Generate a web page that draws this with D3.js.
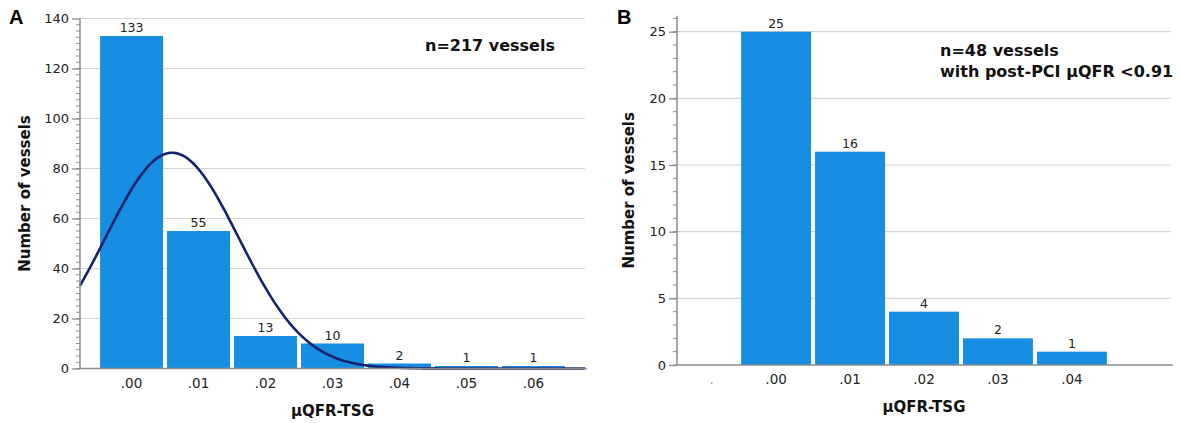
<!DOCTYPE html>
<html>
<head>
<meta charset="utf-8">
<script src="https://cdn.jsdelivr.net/npm/d3@7"></script>
<style>
  body { margin: 0; background: #fff; }
  svg { font-family: "DejaVu Sans", Verdana, sans-serif; }
</style>
</head>
<body>
<svg id="chart" width="1180" height="423"></svg>
<script>
// panel A: all vessels
const binsA = [0.00, 0.01, 0.02, 0.03, 0.04, 0.05, 0.06];
const countsA = [133, 55, 13, 10, 2, 1, 1];
const yTicksA = [0, 20, 40, 60, 80, 100, 120, 140];

// panel B: vessels with post-PCI uQFR < 0.91
const binsB = [0.00, 0.01, 0.02, 0.03, 0.04];
const countsB = [25, 16, 4, 2, 1];
const yTicksB = [0, 5, 10, 15, 20, 25];
const xLabelsB = [".", ".00", ".01", ".02", ".03", ".04"];
const xLabelPosB = [-0.0087, 0.00, 0.01, 0.02, 0.03, 0.04];

const barColor = "#178ee2";
const gridColor = "#d6d6d6";
const axisColor = "#8c8c8c";
const binWidth = 0.01;

const svg = d3.select("#chart");
const fmt = d3.format(".2f");
const tickFmt = function(d) { return fmt(d).replace(/^0/, ""); };

function drawPanel(opt)
{
    const g = svg.append("g");
    const x = d3.scaleLinear().domain(opt.xDomain).range([opt.left, opt.right]);
    const y = d3.scaleLinear().domain([0, opt.yMax]).range([opt.bottom, opt.yMaxPx]);
    const yTop = y(opt.axisTop);

    // gridlines
    g.selectAll(".grid")
        .data(opt.yTicks.filter(function(d) { return d > 0; }))
        .enter().append("line")
        .attr("x1", opt.left).attr("x2", opt.right)
        .attr("y1", function(d) { return y(d); })
        .attr("y2", function(d) { return y(d); })
        .attr("stroke", gridColor).attr("stroke-width", 1.2);

    // bars
    g.selectAll(".bar")
        .data(opt.bins)
        .enter().append("rect")
        .attr("x", function(d) { return x(d - binWidth / 2) + 2; })
        .attr("width", function(d) { return x(d + binWidth / 2) - x(d - binWidth / 2) - 4; })
        .attr("y", function(d, i) { return y(opt.counts[i]); })
        .attr("height", function(d, i) { return opt.bottom - y(opt.counts[i]); })
        .attr("fill", barColor);

    // value labels
    g.selectAll(".val")
        .data(opt.bins)
        .enter().append("text")
        .attr("x", function(d) { return x(d); })
        .attr("y", function(d, i) { return y(opt.counts[i]) - 4; })
        .attr("text-anchor", "middle")
        .attr("font-size", 12.5)
        .attr("fill", "#222")
        .text(function(d, i) { return opt.counts[i]; });

    // normal curve fitted to the binned data
    if(opt.curve)
    {
        const n = d3.sum(opt.counts);
        const mean = d3.sum(opt.bins, function(d, i) { return d * opt.counts[i]; }) / n;
        const ss = d3.sum(opt.bins, function(d, i) { return opt.counts[i] * (d - mean) * (d - mean); });
        const sd = Math.sqrt(ss / (n - 1));
        const pts = d3.range(0, 201).map(function(k)
        {
            const v = opt.xDomain[0] + (opt.xDomain[1] - opt.xDomain[0]) * k / 200;
            const z = (v - mean) / sd;
            return [v, n * binWidth * Math.exp(-z * z / 2) / (sd * Math.sqrt(2 * Math.PI))];
        });
        g.append("path")
            .datum(pts)
            .attr("fill", "none")
            .attr("stroke", "#15226e")
            .attr("stroke-width", 2.6)
            .attr("d", d3.line()
                .x(function(d) { return x(d[0]); })
                .y(function(d) { return y(d[1]); }));
    }

    // x axis line (no ticks)
    g.append("line")
        .attr("x1", opt.left).attr("x2", opt.right + 2)
        .attr("y1", opt.bottom).attr("y2", opt.bottom)
        .attr("stroke", axisColor).attr("stroke-width", 1.5);

    // y axis
    const yAxis = d3.axisLeft(y).tickValues(opt.yTicks).tickSize(8).tickPadding(3);
    const ga = g.append("g")
        .attr("transform", "translate(" + opt.left + ",0)")
        .call(yAxis);
    ga.select(".domain").remove();
    ga.selectAll(".tick line").attr("stroke", axisColor).attr("stroke-width", 1.3);
    ga.selectAll("text").attr("font-size", 13).attr("fill", "#222")
        .attr("font-family", "DejaVu Sans, sans-serif");
    g.append("line")
        .attr("x1", opt.left).attr("x2", opt.left)
        .attr("y1", yTop).attr("y2", opt.bottom)
        .attr("stroke", axisColor).attr("stroke-width", 1.5);

    // minor ticks
    g.selectAll(".minor")
        .data(d3.range(0, opt.axisTop, opt.minorStep))
        .enter().append("line")
        .attr("x1", opt.left - 4).attr("x2", opt.left)
        .attr("y1", function(d) { return y(d); })
        .attr("y2", function(d) { return y(d); })
        .attr("stroke", axisColor).attr("stroke-width", 1);

    // x tick labels
    g.selectAll(".xl")
        .data(opt.xLabels)
        .enter().append("text")
        .attr("x", function(d, i) { return x(opt.xLabelPos[i]); })
        .attr("y", opt.bottom + 19)
        .attr("text-anchor", "middle")
        .attr("font-size", 13.5)
        .attr("fill", function(d) { return d === "." ? "#999" : "#222"; })
        .text(function(d) { return d; });

    // axis titles
    g.append("text")
        .attr("x", (opt.left + opt.right) / 2)
        .attr("y", opt.bottom + 47)
        .attr("text-anchor", "middle")
        .attr("font-size", 15).attr("font-weight", "bold")
        .attr("fill", "#111")
        .text("\u00b5QFR-TSG");

    g.append("text")
        .attr("transform", "translate(" + opt.titleX + "," + ((yTop + opt.bottom) / 2) + ") rotate(-90)")
        .attr("text-anchor", "middle")
        .attr("font-size", 15).attr("font-weight", "bold")
        .attr("fill", "#111")
        .text("Number of vessels");

    // panel letter
    g.append("text")
        .attr("x", opt.letterX).attr("y", 24)
        .attr("font-size", 20).attr("font-weight", "bold")
        .attr("font-family", "Liberation Sans, Arial, sans-serif")
        .attr("fill", "#000")
        .text(opt.letter);

    // annotation
    g.selectAll(".note")
        .data(opt.notes)
        .enter().append("text")
        .attr("x", opt.noteX)
        .attr("y", function(d, i) { return opt.noteY + i * 21; })
        .attr("font-size", 16).attr("font-weight", "bold")
        .attr("fill", "#111")
        .text(function(d) { return d; });
}

drawPanel({
    letter: "A", letterX: 9,
    left: 80, right: 585, bottom: 368.5, yMaxPx: 18.5,
    yMax: 140, axisTop: 140, minorStep: 2.5, yTicks: yTicksA,
    xDomain: [-0.0077, 0.0677],
    bins: binsA, counts: countsA,
    xLabels: binsA.map(tickFmt), xLabelPos: binsA,
    curve: true, titleX: 30,
    notes: ["n=217 vessels"], noteX: 425, noteY: 51
});

drawPanel({
    letter: "B", letterX: 617,
    left: 677, right: 1171, bottom: 365, yMaxPx: 31.7,
    yMax: 25, axisTop: 26.2, minorStep: 1, yTicks: yTicksB,
    xDomain: [-0.0134, 0.0534],
    bins: binsB, counts: countsB,
    xLabels: xLabelsB, xLabelPos: xLabelPosB,
    curve: false, titleX: 634,
    notes: ["n=48 vessels", "with post-PCI \u00b5QFR <0.91"], noteX: 940, noteY: 56
});
</script>
</body>
</html>
